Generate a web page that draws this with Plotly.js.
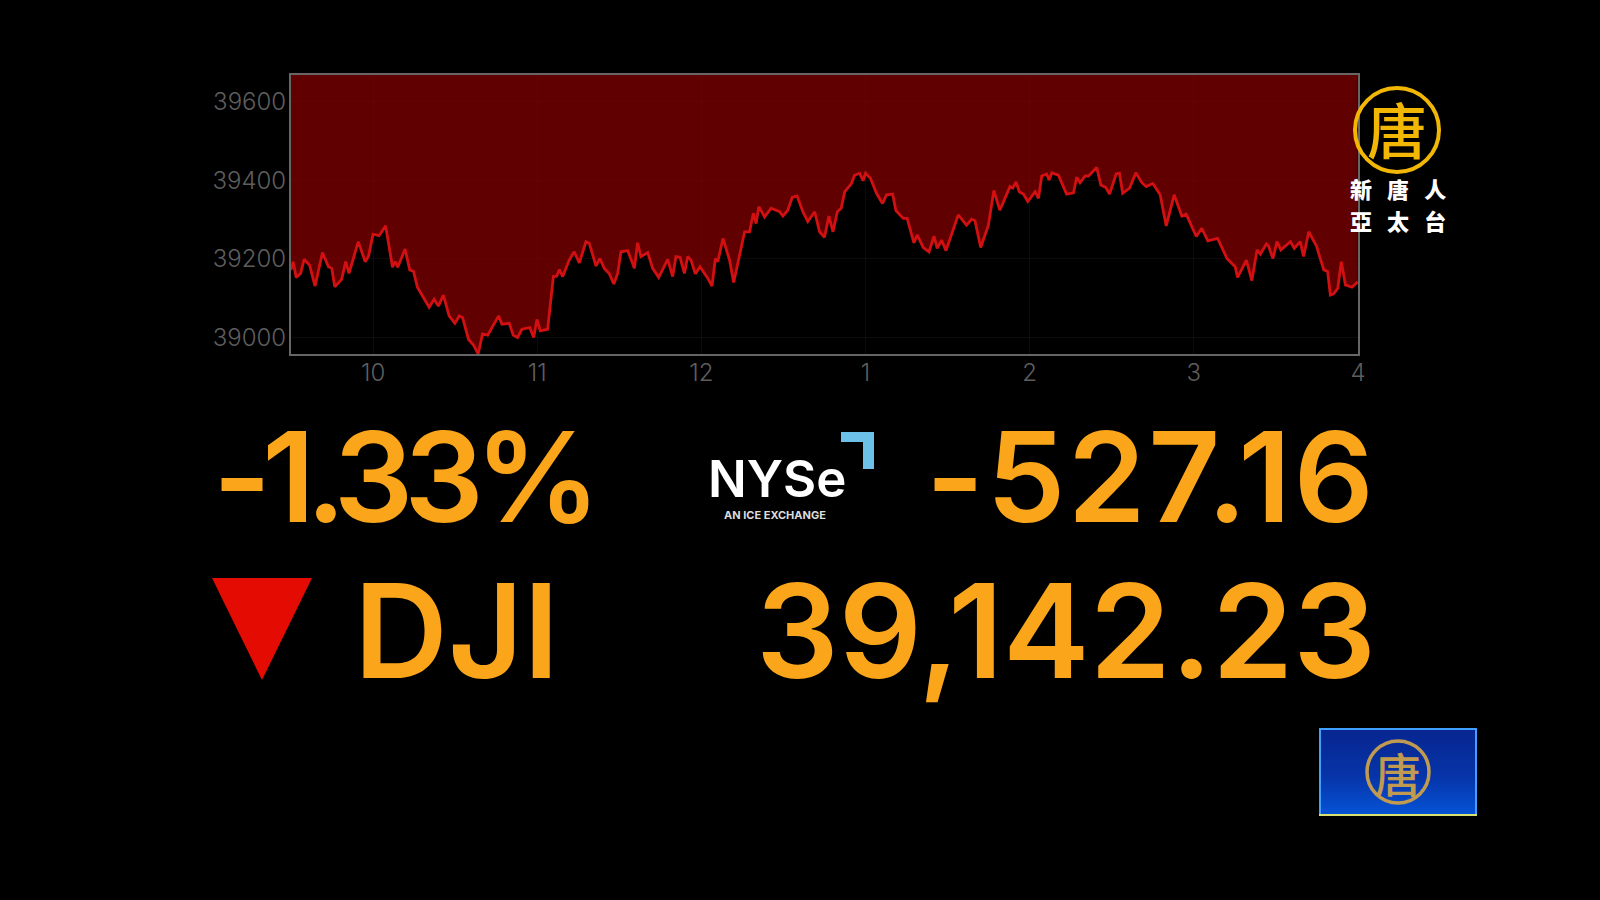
<!DOCTYPE html>
<html><head><meta charset="utf-8">
<script src="https://cdn.plot.ly/plotly-3.0.1.min.js"></script>
<style>html,body{margin:0;padding:0;background:#000;overflow:hidden}#c{width:1600px;height:900px}</style>
</head><body><div id="c"></div>
<script>
// minutes after the 9:30 open
const minutes=[0,0.8,1.9,3.5,4.8,6.8,8.8,11.5,13.7,14.9,16,18.5,20,21.2,24.6,27.1,28.3,30,32.2,34.6,37.1,38.1,39,41.7,43.4,44.8,46.2,50.5,52.3,53.9,55.7,57.8,59.9,61.5,62.7,64.9,66.7,68.4,70,71.9,75.9,77.1,79.8,81.2,82.8,84.4,87.3,88.7,89.9,91.1,93.8,95.9,97.1,98.1,99.3,101.7,103.5,105.4,107.8,109,111.5,112.9,114.5,116.3,118,119.4,120.6,123.1,125.5,126.7,127.9,130.4,132.2,134.4,137.7,139.5,140.7,142.2,143.8,145,146.2,147.8,149.5,152.3,153.9,155.1,156,157.9,160.3,161.8,165.8,167.6,169,170,171,173.1,175.5,178.6,179.8,181.6,183.2,185,187.1,188.9,191.4,193.2,195,196.6,198.1,199.7,201.1,202.4,204.8,206,207.8,209.1,210,211.8,214,216.2,217.7,219.9,221.1,223.8,225.2,227.7,228.9,231.1,233.2,235,236.2,237.8,239.4,243.9,246.9,248.8,250,252.1,254.9,256.9,259.1,262.8,263.8,265,266.2,267.7,269.3,272,273.2,274.4,276.2,277.1,278.1,280.5,283.5,286,287.2,288.4,290.3,291.5,294.5,296,297.8,299.2,301.6,302.8,304,306.5,308.8,311,312.6,315,317.7,319.9,322.8,325.6,327.2,330.9,332.9,335.1,338.7,342.1,345.1,346,349.2,351.2,353.1,354.3,356.5,357.3,358.9,360.4,361.8,365.3,366.7,368.9,370.1,372,374.8,377.5,378.9,379.9,381.1,382.6,383.9,385.4,387.8,389.9];
const djiValues=[39172,39193,39153,39163,39199,39184,39131,39216,39180,39176,39129,39148,39193,39163,39244,39193,39206,39263,39259,39284,39179,39193,39179,39225,39172,39168,39128,39077,39097,39080,39108,39055,39036,39055,39051,38995,38981,38958,39009,39006,39055,39034,39036,39006,39000,39021,39025,39000,39046,39017,39021,39155,39156,39173,39155,39197,39218,39190,39244,39240,39182,39201,39176,39163,39136,39163,39218,39221,39176,39241,39206,39216,39176,39153,39199,39155,39206,39204,39163,39206,39197,39162,39180,39151,39131,39201,39193,39252,39197,39140,39269,39269,39316,39290,39333,39307,39329,39320,39309,39324,39357,39360,39320,39295,39320,39269,39255,39309,39269,39320,39329,39371,39391,39413,39418,39399,39418,39405,39367,39341,39363,39365,39323,39303,39303,39241,39261,39229,39218,39258,39227,39248,39221,39312,39286,39301,39297,39229,39286,39374,39324,39384,39380,39396,39371,39365,39346,39371,39354,39411,39416,39401,39419,39413,39365,39368,39408,39394,39411,39411,39433,39388,39382,39365,39416,39418,39367,39380,39419,39394,39384,39392,39363,39284,39363,39309,39314,39257,39278,39246,39252,39201,39180,39153,39197,39145,39223,39212,39238,39233,39201,39244,39223,39244,39227,39244,39206,39269,39233,39172,39168,39108,39111,39125,39193,39134,39128,39142];
const yTicks=[39000,39200,39400,39600];
const xTicks=[30,90,150,210,270,330,390];
const xTickLabels=['10','11','12','1','2','3','4'];
const yRange=[38958,39668];
const xRange=[0,390];

const L=291,R=1358,T=75,B=354;
const px=v=>(v-L)/(R-L), py=v=>(B-v)/(B-T);
const orange='#fba61a', font='Inter, Lato, sans-serif', cjk='"Noto Sans CJK TC", sans-serif';
function txt(t,x,y,size,color,anchor,weight,fam){return {text:t,xref:'paper',yref:'paper',x:px(x),y:py(y),showarrow:false,xanchor:anchor,yanchor:'middle',align:'center',font:{family:fam||font,size:size,color:color,weight:weight||400}};}
function poly(pts,fill){return {type:'path',xref:'paper',yref:'paper',layer:'above',line:{width:0},fillcolor:fill,path:'M'+pts.map(p=>px(p[0])+','+py(p[1])).join('L')+'Z'};}
function ring(cx,cy,r,w,c){return {type:'circle',xref:'paper',yref:'paper',layer:'above',x0:px(cx-r),x1:px(cx+r),y0:py(cy+r),y1:py(cy-r),line:{color:c,width:w},fillcolor:'rgba(0,0,0,0)'};}

const boxSvg='<svg xmlns="http://www.w3.org/2000/svg" width="158" height="88"><defs><linearGradient id="g" x1="0" y1="0" x2="0" y2="1"><stop offset="0" stop-color="#07258f"/><stop offset="0.55" stop-color="#0634a8"/><stop offset="1" stop-color="#0554d8"/></linearGradient></defs><rect width="158" height="88" fill="url(#g)"/><rect x="1" y="1" width="156" height="86" fill="none" stroke="#3fa0ff" stroke-width="2"/><line x1="0" y1="87" x2="158" y2="87" stroke="#d8e070" stroke-width="2"/></svg>';

const traces=[
 {x:minutes,y:minutes.map(()=>yRange[1]),mode:'lines',line:{width:0},hoverinfo:'skip',showlegend:false},
 {x:minutes,y:djiValues,mode:'lines',fill:'tonexty',fillcolor:'rgba(150,0,0,0.64)',line:{color:'#d21012',width:2.8,shape:'linear'},showlegend:false}
];
const axisCommon={showline:true,mirror:true,linecolor:'#666',linewidth:2,zeroline:false,showgrid:true,gridcolor:'rgba(255,255,255,0.045)',gridwidth:1,ticks:'',tickfont:{family:font,size:24,color:'#5e5e5e',weight:300}};
const layout={width:1600,height:900,paper_bgcolor:'#000',plot_bgcolor:'#000',
 margin:{l:L,r:1600-R,t:T,b:900-B,pad:0},showlegend:false,
 xaxis:Object.assign({},axisCommon,{range:xRange,tickmode:'array',tickvals:xTicks,ticktext:xTickLabels,ticklabelstandoff:-4}),
 yaxis:Object.assign({},axisCommon,{range:yRange,tickmode:'array',tickvals:yTicks,ticktext:yTicks.map(String),ticklabelstandoff:-2}),
 images:[{source:'data:image/svg+xml;utf8,'+encodeURIComponent(boxSvg),xref:'paper',yref:'paper',x:px(1319),y:py(728),sizex:158/(R-L),sizey:88/(B-T),xanchor:'left',yanchor:'top',sizing:'stretch',layer:'above'}],
 shapes:[
  poly([[212,578],[312,578],[262,680]],'#e40c02'),
  poly([[841,432],[874,432],[874,469],[863,469],[863,442],[841,442]],'#6dc0e8'),
  ring(1397,130,42,4,'#f2b705'),
  ring(1398,772,31,3.5,'#c09a50')
 ],
 annotations:[
  txt('<span style="letter-spacing:-9px">-1.33%</span>',211,476,125,orange,'left',600),
  txt('<span style="letter-spacing:2.5px">-527.16</span>',1378,476,125,orange,'right',600),
  txt('DJI',352,630,130,orange,'left',600),
  txt('39,142.23',1378,630,130,orange,'right',600),
  txt('NYSe',777,478,51,'#fff','center',600),
  txt('AN ICE EXCHANGE',775,515,11,'#ddd','center',700),
  txt('唐',1397,127,60,'#f2b705','center',500,cjk),
  txt('新\u00a0\u00a0\u00a0唐\u00a0\u00a0\u00a0人',1398,188,22,'#fff','center',900,cjk),
  txt('亞\u00a0\u00a0\u00a0太\u00a0\u00a0\u00a0台',1398,220,22,'#fff','center',900,cjk),
  txt('唐',1398,772,46,'#c09a50','center',500,cjk)
 ]
};
Plotly.newPlot('c',traces,layout,{displayModeBar:false,staticPlot:true});
</script></body></html>
